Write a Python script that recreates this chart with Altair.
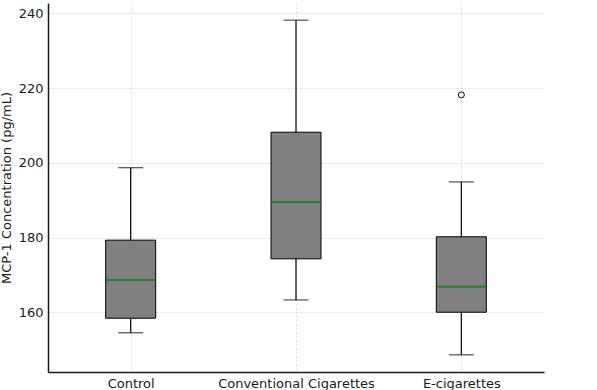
import altair as alt
import pandas as pd

# Summary statistics of MCP-1 concentration per exposure group
groups = ["Control", "Conventional Cigarettes", "E-cigarettes"]
whisker_low = [154.5, 163.3, 148.6]
q1 = [158.4, 174.3, 160.0]
median = [168.6, 189.5, 166.8]
q3 = [179.3, 208.2, 180.2]
whisker_high = [198.7, 238.2, 194.9]

# Points beyond the whiskers
outlier_group = ["E-cigarettes"]
outlier_value = [218.2]

stats = pd.DataFrame({
    "group": groups,
    "whisker_low": whisker_low,
    "q1": q1,
    "median": median,
    "q3": q3,
    "whisker_high": whisker_high,
})
outliers = pd.DataFrame({"group": outlier_group, "value": outlier_value})

x_enc = alt.X(
    "group:N",
    sort=groups,
    scale=alt.Scale(type="point", padding=0.5),
    axis=alt.Axis(title=None, labelAngle=0, labelPadding=5),
)
y_scale = alt.Scale(domain=[144.0, 242.8], nice=False, zero=False)
y_axis = alt.Axis(
    title="MCP-1 Concentration (pg/mL)",
    values=[160, 180, 200, 220, 240],
    labelPadding=5,
    titlePadding=5,
)

base = alt.Chart(stats)

whiskers = base.mark_rule(color="black", strokeWidth=1.2).encode(
    x=x_enc,
    y=alt.Y("whisker_low:Q", scale=y_scale, axis=y_axis),
    y2="whisker_high:Q",
)

boxes = base.mark_bar(size=50, color="#808080", stroke="black", strokeWidth=1).encode(
    x=x_enc,
    y=alt.Y("q1:Q", scale=y_scale, axis=y_axis),
    y2="q3:Q",
)

medians = base.mark_tick(size=50, thickness=2, color="#008000").encode(
    x=x_enc,
    y=alt.Y("median:Q", scale=y_scale, axis=y_axis),
)

caps_low = base.mark_tick(size=25, thickness=1.2, color="black").encode(
    x=x_enc,
    y=alt.Y("whisker_low:Q", scale=y_scale, axis=y_axis),
)
caps_high = base.mark_tick(size=25, thickness=1.2, color="black").encode(
    x=x_enc,
    y=alt.Y("whisker_high:Q", scale=y_scale, axis=y_axis),
)

fliers = alt.Chart(outliers).mark_point(
    shape="circle", filled=False, size=36, color="black", strokeWidth=1, opacity=1
).encode(
    x=x_enc,
    y=alt.Y("value:Q", scale=y_scale, axis=y_axis),
)

chart = (
    alt.layer(whiskers, boxes, medians, caps_low, caps_high, fliers)
    .properties(
        width=496,
        height=369,
        autosize=alt.AutoSizeParams(type="none"),
        padding={"left": 48, "top": 3, "right": 53, "bottom": 18},
        background="white",
    )
    .configure_view(stroke=None)
    .configure_axis(
        grid=True,
        gridColor="#d0d0d0",
        gridDash=[2, 2],
        gridWidth=0.8,
        domainColor="#1a1a1a",
        domainWidth=1.5,
        ticks=False,
        labelFont="DejaVu Sans",
        labelFontSize=13,
        labelColor="#1a1a1a",
        titleFont="DejaVu Sans",
        titleFontSize=13,
        titleFontWeight="normal",
        titleColor="#1a1a1a",
    )
)

chart.save("out.html", embed_options={"renderer": "svg", "actions": False})
